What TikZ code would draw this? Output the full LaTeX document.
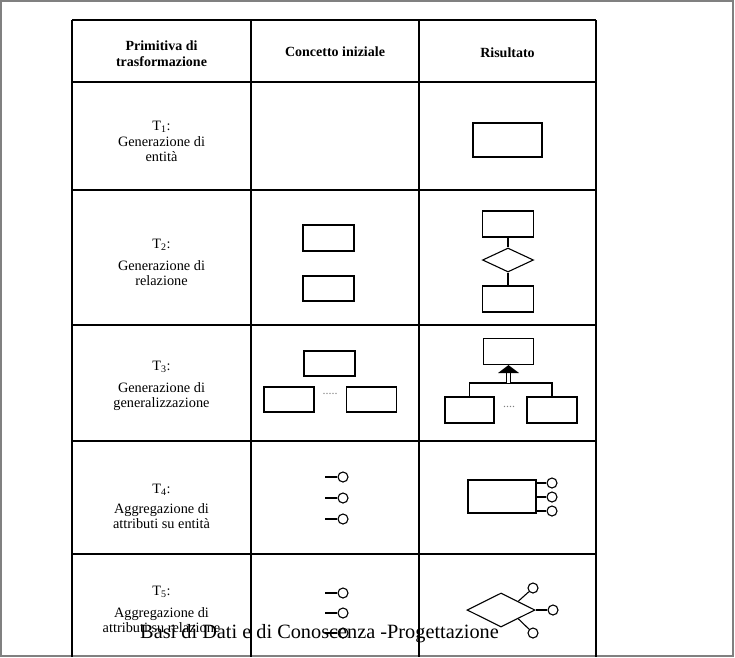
\documentclass[tikz,border=0pt]{standalone}
\usepackage{fontspec}
\setmainfont{Liberation Serif}
\usetikzlibrary{shapes.geometric}
\tikzset{
	entbox/.style={draw,rectangle,inner sep=0pt,line width=1.1pt},
	relbox/.style={draw,diamond,inner sep=0pt,line width=1.1pt},
	attr/.style={draw,circle,inner sep=0pt,minimum size=10pt,line width=1.1pt},
	cell/.style={align=center,inner sep=0pt,font=\fontsize{14.3}{15}\selectfont},
	headcell/.style={cell,font=\bfseries\fontsize{14}{16.5}\selectfont},
	gapdots/.style={inner sep=0pt,color=gray,font=\fontsize{12}{12}\selectfont},
}
\begin{document}
\begin{tikzpicture}[x=1pt,y=-1pt]
		\useasboundingbox (0,0) rectangle (735,657);
		% frame
		\draw[color=gray,line width=1.5pt] (1,1) rectangle (733,656);
		% table
		\foreach \y in {20,82,190,325,441,554}
			\draw[line width=1.6pt] (72,\y) -- (596,\y);
		\foreach \x in {72,251,419,596}
			\draw[line width=1.6pt] (\x,20) -- (\x,657);
		
		% header
		\node[headcell] (hprim) at (161.5,53.5) {Primitiva di\\trasformazione};
		\node[headcell] (hconc) at (335,52) {Concetto iniziale};
		\node[headcell] (hris) at (507.5,53) {Risultato};
		
		% first column
		\node[cell] (t1) at (161.5,127) {T\textsubscript{1}:};
		\node[cell] (d1) at (161.5,149.5) {Generazione di\\entità};
		\node[cell] (t2) at (161.5,245) {T\textsubscript{2}:};
		\node[cell] (d2) at (161.5,273.5) {Generazione di\\relazione};
		\node[cell] (t3) at (161.5,367) {T\textsubscript{3}:};
		\node[cell] (d3) at (161.5,396.5) {Generazione di\\generalizzazione};
		\node[cell] (t4) at (161.5,490) {T\textsubscript{4}:};
		\node[cell] (d4) at (161.5,516.5) {Aggregazione di\\attributi su entità};
		\node[cell] (t5) at (161.5,592) {T\textsubscript{5}:};
		\node[cell] (d5) at (161.5,620.5) {Aggregazione di\\attributi su relazione};
		
		% T1
		\node[entbox,minimum width=69pt,minimum height=34pt] (e1) at (507.5,140) {};
		
		% T2
		\node[entbox,minimum width=51pt,minimum height=26pt] (c2a) at (328.5,238) {};
		\node[entbox,minimum width=51pt,minimum height=25pt] (c2b) at (328.5,288.5) {};
		\node[entbox,minimum width=51pt,minimum height=26pt] (e2a) at (508,224) {};
		\node[relbox,minimum width=51pt,minimum height=24pt] (r2) at (508,260) {};
		\node[entbox,minimum width=51pt,minimum height=26pt] (e2b) at (508,299) {};
		\draw[line width=1.1pt] (e2a) -- (r2);
		\draw[line width=1.1pt] (r2) -- (e2b);
		
		% T3
		\node[entbox,minimum width=51pt,minimum height=25pt] (c3) at (329.5,363.5) {};
		\node[entbox,minimum width=50pt,minimum height=25pt] (c3l) at (289,399.5) {};
		\node[entbox,minimum width=50pt,minimum height=25pt] (c3r) at (371.5,399.5) {};
		\node[gapdots] (c3dots) at (330,394) {.....};
		\node[entbox,minimum width=50pt,minimum height=26pt] (e3) at (508.5,351.5) {};
		\node[entbox,minimum width=49pt,minimum height=26pt] (e3l) at (469.5,410) {};
		\node[entbox,minimum width=50pt,minimum height=26pt] (e3r) at (552,410) {};
		\node[gapdots] (e3dots) at (509,407) {....};
		\coordinate (hub) at (508.5,383);
		\coordinate (base) at (508.5,373);
		\draw[line width=1.1pt] (e3l.north) -- (e3l.north |- hub) -| (e3r.north);
		\draw[line width=1pt,double,double distance=3.5pt] (hub) -- (base);
		\fill (e3.south) -- ([xshift=-10.5pt]base) -- ([xshift=10.5pt]base) -- cycle;
		
		% T4
		\foreach \n/\y in {1/477,2/498,3/519}
		{
			\node[attr] (c4\n) at (343,\y) {};
			\draw[line width=1.1pt] (c4\n.west) -- ++(-12,0);
		}
		\node[entbox,minimum width=68pt,minimum height=33pt] (e4) at (502,496.5) {};
		\foreach \n/\y in {1/483,2/497,3/511}
		{
			\node[attr] (a4\n) at (552,\y) {};
			\draw[line width=1.1pt] (a4\n -| e4.east) -- (a4\n);
		}
		
		% T5
		\foreach \n/\y in {1/593,2/613,3/633}
		{
			\node[attr] (c5\n) at (343,\y) {};
			\draw[line width=1.1pt] (c5\n.west) -- ++(-12,0);
		}
		\node[relbox,minimum width=68pt,minimum height=34pt] (r5) at (501,610) {};
		\node[attr] (a51) at (533,588) {};
		\node[attr] (a52) at (553,610) {};
		\node[attr] (a53) at (533,633) {};
		\draw[line width=1.1pt] (r5.north east) -- (a51);
		\draw[line width=1.1pt] (r5.east) -- (a52);
		\draw[line width=1.1pt] (r5.south east) -- (a53);
		
		% footer
		\node[font=\fontsize{20.3}{22}\selectfont,anchor=base,inner sep=0pt] (foot) at (319.5,638) {Basi di Dati e di Conoscenza -Progettazione};
\end{tikzpicture}
\end{document}
